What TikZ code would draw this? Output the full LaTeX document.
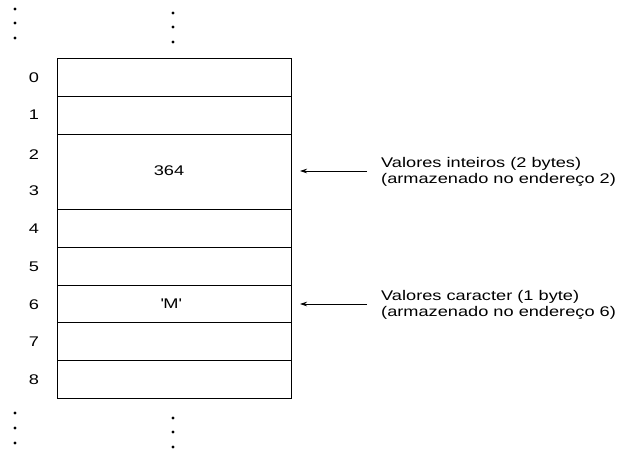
\documentclass[tikz,border=0pt]{standalone}
\usepackage{fontspec}
\setmainfont{Liberation Sans}[FakeStretch=1.3]
\usetikzlibrary{arrows.meta}
\begin{document}
\begin{tikzpicture}[x=1pt,y=-1pt,
  cell/.style={draw,line width=0.8pt,minimum width=234pt,inner sep=0pt,anchor=north west},
  addr/.style={font=\fontsize{14}{16}\selectfont},
  lbl/.style={font=\fontsize{14}{16}\selectfont,align=left,anchor=west,inner sep=0pt},
  dot/.style={fill,circle,inner sep=0pt,minimum size=3.2pt},
  ptr/.style={line width=0.7pt,-{Stealth[length=7pt,width=4.5pt]}}]
\useasboundingbox (0,0) rectangle (624,451);
\node[cell,minimum height=37.75pt] (c0) at (57,58) {};
\node[cell,minimum height=37.75pt] (c1) at (57,95.75) {};
\node[cell,minimum height=75.5pt] (c23) at (57,133.5) {};
\node[cell,minimum height=37.75pt] (c4) at (57,209) {};
\node[cell,minimum height=37.75pt] (c5) at (57,246.75) {};
\node[cell,minimum height=37.75pt] (c6) at (57,284.5) {};
\node[cell,minimum height=37.75pt] (c7) at (57,322.25) {};
\node[cell,minimum height=37.75pt] (c8) at (57,360) {};
\node[addr] (v364) at (169,171) {364};
\node[addr] (vM) at (171,304) {\textquotesingle M\textquotesingle};
\node[addr] (a0) at (34,78) {0};
\node[addr] (a1) at (34,115) {1};
\node[addr] (a2) at (34,155) {2};
\node[addr] (a3) at (34,191) {3};
\node[addr] (a4) at (34,229) {4};
\node[addr] (a5) at (34,267) {5};
\node[addr] (a6) at (34,305) {6};
\node[addr] (a7) at (34,342) {7};
\node[addr] (a8) at (34,380) {8};
\foreach \y [count=\i] in {9,23,38}{\node[dot] (lt\i) at (15,\y) {};}
\foreach \y [count=\i] in {13,27,42}{\node[dot] (mt\i) at (173,\y) {};}
\foreach \y [count=\i] in {413,428,443}{\node[dot] (lb\i) at (15,\y) {};}
\foreach \y [count=\i] in {418,432,447}{\node[dot] (mb\i) at (173,\y) {};}
\node[lbl] (t1) at (381,172) {Valores inteiros (2 bytes)\\(armazenado no endereço 2)};
\node[lbl] (t2) at (381,305) {Valores caracter (1 byte)\\(armazenado no endereço 6)};
\coordinate (p1) at (300,171);
\coordinate (p2) at (300,304);
\draw[ptr] (367,171) -- (p1);
\draw[ptr] (367,304) -- (p2);
\end{tikzpicture}
\end{document}
